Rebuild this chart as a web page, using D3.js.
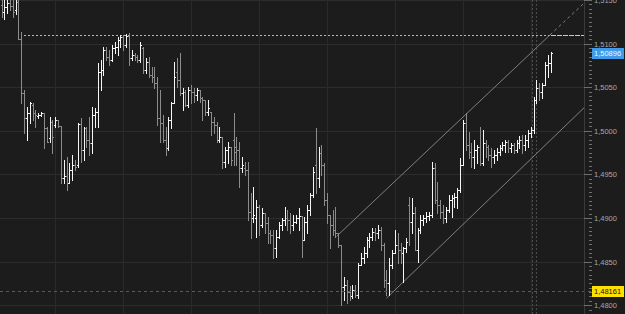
<!DOCTYPE html>
<html>
<head>
<meta charset="utf-8">
<script src="https://cdn.jsdelivr.net/npm/d3@7"></script>
<style>
  body { margin: 0; background: #1c1c1c; overflow: hidden; }
  #chart text { font-family: "Liberation Sans", Arial, sans-serif; }
</style>
</head>
<body>
<div id="chart"></div>
<script>
// hourly OHLC bars, oldest first
const openP = [
  1.5144, 1.5136, 1.5142, 1.5147, 1.5143, 1.5139, 1.5148, 1.5105, 1.5043, 1.5015,
  1.5020, 1.5030, 1.5020, 1.5017, 1.5018, 1.5020, 1.5003, 1.4992, 1.5010, 1.5007,
  1.5012, 1.5006, 1.4946, 1.4948, 1.4940, 1.4955, 1.4961, 1.4961, 1.5008, 1.4978,
  1.5003, 1.4989, 1.4986, 1.5018, 1.5022, 1.5067, 1.5070, 1.5093, 1.5085, 1.5081,
  1.5095, 1.5096, 1.5104, 1.5108, 1.5098, 1.5109, 1.5083, 1.5087, 1.5085, 1.5081,
  1.5095, 1.5070, 1.5079, 1.5064, 1.5062, 1.5055, 1.5015, 1.5009, 1.4989, 1.4980,
  1.5012, 1.5032, 1.5067, 1.5058, 1.5043, 1.5044, 1.5030, 1.5047, 1.5044, 1.5041,
  1.5047, 1.5038, 1.5035, 1.5022, 1.5022, 1.5010, 1.5007, 1.4989, 1.4993, 1.4964,
  1.4978, 1.4981, 1.4989, 1.4981, 1.4978, 1.4957, 1.4957, 1.4955, 1.4907, 1.4900,
  1.4900, 1.4913, 1.4892, 1.4906, 1.4894, 1.4883, 1.4881, 1.4866, 1.4878, 1.4892,
  1.4898, 1.4900, 1.4898, 1.4892, 1.4895, 1.4900, 1.4902, 1.4875, 1.4895, 1.4909,
  1.4926, 1.4961, 1.4946, 1.4975, 1.4961, 1.4921, 1.4903, 1.4892, 1.4886, 1.4883,
  1.4869, 1.4821, 1.4823, 1.4815, 1.4811, 1.4817, 1.4812, 1.4846, 1.4854, 1.4860,
  1.4875, 1.4878, 1.4884, 1.4883, 1.4886, 1.4869, 1.4829, 1.4825, 1.4846, 1.4860,
  1.4869, 1.4863, 1.4860, 1.4866, 1.4915, 1.4895, 1.4906, 1.4863, 1.4886, 1.4898,
  1.4900, 1.4902, 1.4903, 1.4957, 1.4921, 1.4915, 1.4907, 1.4900, 1.4909, 1.4921,
  1.4923, 1.4924, 1.4932, 1.4961, 1.5009, 1.4984, 1.4976, 1.4970, 1.4978, 1.4981,
  1.4963, 1.4986, 1.4981, 1.4972, 1.4970, 1.4972, 1.4976, 1.4980, 1.4984, 1.4987,
  1.4980, 1.4984, 1.4978, 1.4986, 1.4989, 1.4984, 1.4989, 1.4997, 1.5001, 1.5035,
  1.5049, 1.5044, 1.5053, 1.5075, 1.5078
];
const highP = [
  1.5159, 1.5156, 1.5161, 1.5157, 1.5155, 1.5159, 1.5150, 1.5113, 1.5047, 1.5027,
  1.5033, 1.5032, 1.5024, 1.5020, 1.5022, 1.5020, 1.5004, 1.5016, 1.5012, 1.5016,
  1.5012, 1.5006, 1.4967, 1.4970, 1.4963, 1.4972, 1.4967, 1.5009, 1.5015, 1.5004,
  1.5004, 1.5016, 1.5027, 1.5026, 1.5078, 1.5081, 1.5096, 1.5096, 1.5093, 1.5098,
  1.5102, 1.5108, 1.5110, 1.5110, 1.5111, 1.5112, 1.5093, 1.5089, 1.5087, 1.5102,
  1.5096, 1.5083, 1.5085, 1.5073, 1.5073, 1.5062, 1.5047, 1.5018, 1.5004, 1.5016,
  1.5033, 1.5079, 1.5083, 1.5089, 1.5049, 1.5047, 1.5050, 1.5053, 1.5049, 1.5049,
  1.5047, 1.5039, 1.5035, 1.5035, 1.5022, 1.5016, 1.5010, 1.5004, 1.4993, 1.4981,
  1.4987, 1.4981, 1.5020, 1.4993, 1.4987, 1.4970, 1.4964, 1.4964, 1.4929, 1.4936,
  1.4921, 1.4915, 1.4911, 1.4906, 1.4901, 1.4886, 1.4886, 1.4886, 1.4895, 1.4900,
  1.4913, 1.4909, 1.4906, 1.4903, 1.4903, 1.4911, 1.4902, 1.4901, 1.4915, 1.4929,
  1.4958, 1.5003, 1.4981, 1.4984, 1.4963, 1.4929, 1.4903, 1.4909, 1.4913, 1.4883,
  1.4869, 1.4832, 1.4829, 1.4822, 1.4823, 1.4823, 1.4848, 1.4860, 1.4867, 1.4878,
  1.4883, 1.4889, 1.4889, 1.4892, 1.4890, 1.4871, 1.4840, 1.4854, 1.4863, 1.4886,
  1.4883, 1.4871, 1.4867, 1.4877, 1.4924, 1.4923, 1.4913, 1.4889, 1.4903, 1.4903,
  1.4907, 1.4907, 1.4964, 1.4963, 1.4941, 1.4921, 1.4915, 1.4913, 1.4926, 1.4926,
  1.4929, 1.4934, 1.4969, 1.5012, 1.5020, 1.4999, 1.4986, 1.4989, 1.4984, 1.5004,
  1.5001, 1.4989, 1.4984, 1.4980, 1.4978, 1.4980, 1.4984, 1.4987, 1.4989, 1.4989,
  1.4986, 1.4986, 1.4989, 1.4994, 1.4995, 1.4995, 1.5001, 1.5004, 1.5039, 1.5058,
  1.5055, 1.5055, 1.5079, 1.5087, 1.5090
];
const lowP = [
  1.5131, 1.5128, 1.5135, 1.5139, 1.5131, 1.5134, 1.5105, 1.5032, 1.4997, 1.4989,
  1.5009, 1.5012, 1.5004, 1.5015, 1.5017, 1.4980, 1.4987, 1.4987, 1.4975, 1.5004,
  1.5004, 1.4940, 1.4940, 1.4932, 1.4940, 1.4944, 1.4955, 1.4958, 1.4964, 1.4967,
  1.4981, 1.4972, 1.4975, 1.5004, 1.5004, 1.5047, 1.5064, 1.5081, 1.5075, 1.5080,
  1.5089, 1.5087, 1.5096, 1.5093, 1.5096, 1.5075, 1.5081, 1.5081, 1.5079, 1.5079,
  1.5066, 1.5066, 1.5062, 1.5056, 1.5049, 1.5007, 1.4987, 1.4987, 1.4972, 1.4978,
  1.5003, 1.5032, 1.5050, 1.5041, 1.5024, 1.5028, 1.5027, 1.5032, 1.5033, 1.5035,
  1.5033, 1.5012, 1.5018, 1.5018, 1.4995, 1.4997, 1.4987, 1.4987, 1.4957, 1.4958,
  1.4963, 1.4961, 1.4961, 1.4961, 1.4936, 1.4953, 1.4949, 1.4898, 1.4877, 1.4895,
  1.4878, 1.4881, 1.4890, 1.4883, 1.4871, 1.4871, 1.4854, 1.4855, 1.4877, 1.4886,
  1.4892, 1.4886, 1.4883, 1.4886, 1.4894, 1.4886, 1.4855, 1.4875, 1.4883, 1.4903,
  1.4924, 1.4929, 1.4936, 1.4949, 1.4915, 1.4894, 1.4866, 1.4881, 1.4878, 1.4867,
  1.4800, 1.4806, 1.4803, 1.4806, 1.4808, 1.4809, 1.4808, 1.4846, 1.4848, 1.4855,
  1.4867, 1.4875, 1.4875, 1.4877, 1.4863, 1.4821, 1.4812, 1.4812, 1.4843, 1.4860,
  1.4848, 1.4848, 1.4827, 1.4861, 1.4869, 1.4883, 1.4863, 1.4850, 1.4883, 1.4892,
  1.4895, 1.4898, 1.4901, 1.4917, 1.4906, 1.4900, 1.4894, 1.4895, 1.4907, 1.4901,
  1.4913, 1.4911, 1.4930, 1.4961, 1.4978, 1.4969, 1.4958, 1.4957, 1.4963, 1.4961,
  1.4961, 1.4970, 1.4967, 1.4958, 1.4963, 1.4967, 1.4972, 1.4978, 1.4976, 1.4976,
  1.4976, 1.4975, 1.4976, 1.4980, 1.4975, 1.4978, 1.4981, 1.4993, 1.4997, 1.5032,
  1.5035, 1.5038, 1.5053, 1.5062, 1.5067
];
const closeP = [
  1.5136, 1.5142, 1.5147, 1.5143, 1.5136, 1.5148, 1.5105, 1.5043, 1.5015, 1.5020,
  1.5032, 1.5020, 1.5018, 1.5018, 1.5020, 1.5003, 1.4987, 1.5010, 1.4993, 1.5012,
  1.5006, 1.4946, 1.4948, 1.4940, 1.4955, 1.4961, 1.4958, 1.5008, 1.4978, 1.5003,
  1.4989, 1.4986, 1.5018, 1.5022, 1.5067, 1.5070, 1.5093, 1.5085, 1.5081, 1.5095,
  1.5096, 1.5104, 1.5108, 1.5098, 1.5109, 1.5083, 1.5087, 1.5085, 1.5081, 1.5098,
  1.5070, 1.5079, 1.5064, 1.5062, 1.5055, 1.5015, 1.5009, 1.4989, 1.4980, 1.5012,
  1.5032, 1.5062, 1.5058, 1.5043, 1.5044, 1.5030, 1.5047, 1.5044, 1.5041, 1.5047,
  1.5038, 1.5035, 1.5022, 1.5026, 1.5010, 1.5007, 1.4989, 1.4993, 1.4964, 1.4978,
  1.4981, 1.4967, 1.4976, 1.4978, 1.4957, 1.4961, 1.4955, 1.4907, 1.4900, 1.4903,
  1.4913, 1.4892, 1.4906, 1.4894, 1.4883, 1.4881, 1.4866, 1.4878, 1.4892, 1.4898,
  1.4900, 1.4898, 1.4892, 1.4895, 1.4900, 1.4902, 1.4875, 1.4895, 1.4909, 1.4926,
  1.4953, 1.4946, 1.4975, 1.4961, 1.4921, 1.4903, 1.4892, 1.4886, 1.4883, 1.4869,
  1.4821, 1.4823, 1.4815, 1.4811, 1.4817, 1.4812, 1.4846, 1.4854, 1.4860, 1.4875,
  1.4878, 1.4884, 1.4883, 1.4886, 1.4869, 1.4829, 1.4825, 1.4846, 1.4860, 1.4869,
  1.4863, 1.4860, 1.4866, 1.4872, 1.4895, 1.4906, 1.4863, 1.4886, 1.4898, 1.4900,
  1.4902, 1.4903, 1.4957, 1.4921, 1.4915, 1.4907, 1.4900, 1.4909, 1.4921, 1.4923,
  1.4924, 1.4932, 1.4961, 1.5009, 1.4984, 1.4976, 1.4970, 1.4978, 1.4981, 1.4963,
  1.4986, 1.4981, 1.4972, 1.4970, 1.4972, 1.4976, 1.4980, 1.4984, 1.4987, 1.4980,
  1.4984, 1.4978, 1.4986, 1.4989, 1.4984, 1.4989, 1.4997, 1.5001, 1.5035, 1.5049,
  1.5044, 1.5053, 1.5075, 1.5078, 1.50896
];

const priceTicks = [1.4800, 1.4850, 1.4900, 1.4950, 1.5000, 1.5050, 1.5100, 1.5150];
const dayBreaks = [19, 43, 67, 91, 115, 139, 163, 187];   // bar index of each session start
const cursorBar = 188;

// trend channel, [bar index, price]
const upperLine = [[118.4, 1.4879], [193.8, 1.5110]];
const upperLineExt = [[193.8, 1.5110], [208, 1.5153]];
const lowerLine = [[136, 1.4808], [206, 1.5027]];

const highLevel = 1.5110, highLevelFrom = 8;
const refLevel = 1.48161;
const lastPrice = closeP[closeP.length - 1];

const W = 625, H = 314;
const plotW = 584;

const svg = d3.select("#chart").append("svg")
    .attr("width", W)
    .attr("height", H)
    .style("display", "block")
    .style("background", "#1c1c1c");

const x = d3.scaleLinear().domain([0, openP.length - 1]).range([1.5, 550.6]);
const y = d3.scaleLinear().domain([1.4800, 1.5150]).range([305.2, 0]);
const fmt = v => v.toFixed(4).replace(".", ",");

svg.append("defs").append("clipPath").attr("id", "plot")
    .append("rect").attr("width", plotW).attr("height", H);

// grid
const grid = svg.append("g").attr("shape-rendering", "crispEdges");
grid.selectAll(".h").data(priceTicks).join("line")
    .attr("x1", 0).attr("x2", plotW)
    .attr("y1", d => Math.round(y(d)) + 0.5).attr("y2", d => Math.round(y(d)) + 0.5)
    .attr("stroke", "#2d2d2d");
grid.selectAll(".v").data(dayBreaks).join("line")
    .attr("x1", d => Math.round(x(d)) + 0.5).attr("x2", d => Math.round(x(d)) + 0.5)
    .attr("y1", 0).attr("y2", H)
    .attr("stroke", "#2a2a2a");

const plot = svg.append("g").attr("clip-path", "url(#plot)");

// cursor column (double dotted)
plot.selectAll(".cur").data([-2, 2]).join("line")
    .attr("x1", d => Math.round(x(cursorBar)) + d + 0.5)
    .attr("x2", d => Math.round(x(cursorBar)) + d + 0.5)
    .attr("y1", 0).attr("y2", H)
    .attr("stroke", "#4a4a4a")
    .attr("stroke-dasharray", "2,2");

// reference level (dashed gray)
svg.append("line")
    .attr("x1", 0).attr("x2", 592)
    .attr("y1", Math.round(y(refLevel)) + 0.5).attr("y2", Math.round(y(refLevel)) + 0.5)
    .attr("stroke", "#5a5a5a")
    .attr("stroke-dasharray", "3,3");

// high level (yellow)
const hy = Math.round(y(highLevel)) + 0.5;
plot.append("line")
    .attr("x1", x(highLevelFrom)).attr("x2", x(openP.length - 1))
    .attr("y1", hy).attr("y2", hy)
    .attr("stroke", "#d2d200")
    .attr("shape-rendering", "crispEdges")
    .attr("stroke-dasharray", "2,2");
plot.append("line")
    .attr("x1", x(openP.length - 1)).attr("x2", plotW)
    .attr("y1", hy).attr("y2", hy)
    .attr("stroke", "#f0dc00")
    .attr("shape-rendering", "crispEdges")
    .attr("stroke-dasharray", "5,1");

// channel
const line = d3.line().x(d => x(d[0])).y(d => y(d[1]));
plot.append("path").attr("d", line(upperLine))
    .attr("fill", "none").attr("stroke", "#8a8a8a").attr("stroke-width", 0.9);
plot.append("path").attr("d", line(upperLineExt))
    .attr("fill", "none").attr("stroke", "#8a8a8a").attr("stroke-width", 0.9)
    .attr("stroke-dasharray", "3,3");
plot.append("path").attr("d", line(lowerLine))
    .attr("fill", "none").attr("stroke", "#8a8a8a").attr("stroke-width", 0.9);

// bars
const bars = openP.map((o, i) => ({ i: i, o: o, h: highP[i], l: lowP[i], c: closeP[i] }));
const barG = plot.append("g").attr("shape-rendering", "crispEdges");
const bar = barG.selectAll("g").data(bars).join("g")
    .attr("fill", d => d.c >= d.o ? "#f6f6f6" : "#8c8c8c");
bar.append("rect")
    .attr("x", d => Math.round(x(d.i)))
    .attr("width", 1)
    .attr("y", d => Math.round(y(Math.max(d.h, d.o, d.c))))
    .attr("height", d => Math.round(y(Math.min(d.l, d.o, d.c))) - Math.round(y(Math.max(d.h, d.o, d.c))) + 1);
bar.append("rect")
    .attr("x", d => Math.round(x(d.i)) - 1)
    .attr("width", 1)
    .attr("y", d => Math.round(y(d.o)))
    .attr("height", 1);
bar.append("rect")
    .attr("x", d => Math.round(x(d.i)) + 1)
    .attr("width", 1)
    .attr("y", d => Math.round(y(d.c)))
    .attr("height", 1);

// right price axis
svg.append("line")
    .attr("x1", plotW + 0.5).attr("x2", plotW + 0.5)
    .attr("y1", 0).attr("y2", H)
    .attr("stroke", "#3a3a3a");

const minor = d3.range(1.4790, 1.5160, 0.0005);
svg.append("g").attr("shape-rendering", "crispEdges")
    .selectAll("line").data(minor).join("line")
    .attr("x1", 589).attr("x2", 592)
    .attr("y1", d => Math.round(y(d)) + 0.5).attr("y2", d => Math.round(y(d)) + 0.5)
    .attr("stroke", "#6e6e6e");

const axis = svg.append("g")
    .attr("transform", `translate(${plotW},0)`)
    .call(d3.axisRight(y).tickValues(priceTicks).tickFormat(fmt).tickSize(8).tickPadding(2));
axis.select(".domain").remove();
axis.selectAll(".tick line").attr("stroke", "#6e6e6e").attr("shape-rendering", "crispEdges");
axis.selectAll(".tick text")
    .attr("fill", "#a8a8a8")
    .style("font-size", "7.5px");

// price labels
const labels = [
    { v: lastPrice, fill: "#3d9be9", text: "#eef6ff" },
    { v: refLevel, fill: "#ffe000", text: "#111" }
];
const lab = svg.selectAll(".lab").data(labels).join("g")
    .attr("transform", d => `translate(592,${Math.round(y(d.v))})`);
lab.append("rect")
    .attr("x", 0).attr("y", -5).attr("width", 32).attr("height", 11)
    .attr("fill", d => d.fill);
lab.append("text")
    .attr("x", 2).attr("y", 0.5)
    .attr("dy", "0.35em")
    .attr("fill", d => d.text)
    .style("font-size", "7.5px")
    .text(d => d.v.toFixed(5).replace(".", ","));
</script>
</body>
</html>
